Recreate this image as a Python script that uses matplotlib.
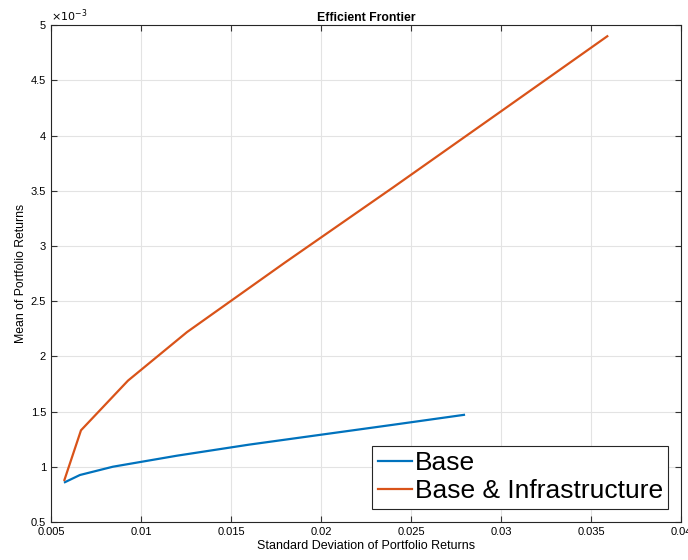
import numpy as np
import matplotlib.pyplot as plt
from matplotlib.ticker import FuncFormatter

plt.rcParams['font.family'] = ['Liberation Sans', 'DejaVu Sans']

# efficient frontier points
base_std = [0.00578, 0.00661, 0.00844, 0.0120, 0.0160, 0.0200, 0.0240, 0.02794]
base_mean = [0.00086, 0.000925, 0.00100, 0.00110, 0.00120, 0.00129, 0.00138, 0.00147]

infra_std = [0.00575, 0.00667, 0.00928, 0.01256, 0.0180, 0.0240, 0.0300, 0.0359]
infra_mean = [0.00088, 0.00133, 0.00178, 0.00222, 0.00285, 0.00353, 0.00422, 0.00490]

fig = plt.figure(figsize=(6.88, 5.60), dpi=100)
ax = fig.add_axes([0.074, 0.068, 0.916, 0.887])

ax.plot(base_std, base_mean, color='#0072BD', lw=1.6, label='Base')
ax.plot(infra_std, infra_mean, color='#D95319', lw=1.6, label='Base & Infrastructure')

ax.set_xlim(0.005, 0.04)
ax.set_ylim(0.0005, 0.005)
ax.set_xticks(np.arange(0.005, 0.0401, 0.005))
ax.set_yticks(np.arange(0.0005, 0.00501, 0.0005))
ax.xaxis.set_major_formatter(FuncFormatter(lambda v, p: ('%g' % round(v, 4))))
ax.yaxis.set_major_formatter(FuncFormatter(lambda v, p: ('%g' % round(v * 1e3, 2))))
ax.text(0.0, 1.003, r'$\times10^{-3}$', transform=ax.transAxes, fontsize=8, va='bottom', ha='left')

ax.grid(True, color='#e3e3e3', lw=0.8)
ax.set_axisbelow(True)
ax.tick_params(direction='in', labelsize=8, length=4, top=True, right=True, color='#333333')
for s in ax.spines.values():
    s.set_color('#262626')
    s.set_linewidth(0.8)

ax.set_title('Efficient Frontier', fontsize=8.8, fontweight='bold', pad=3)
ax.set_xlabel('Standard Deviation of Portfolio Returns', fontsize=9, labelpad=2)
ax.set_ylabel('Mean of Portfolio Returns', fontsize=8.8, labelpad=3)

leg = ax.legend(loc='lower right', fontsize=19, handlelength=1.3, handletextpad=0.1,
                borderpad=0.2, labelspacing=0.15, fancybox=False, framealpha=1,
                borderaxespad=0.5)
leg.get_frame().set_edgecolor('#262626')
leg.get_frame().set_linewidth(0.8)

fig.savefig('out.png', dpi=100)
